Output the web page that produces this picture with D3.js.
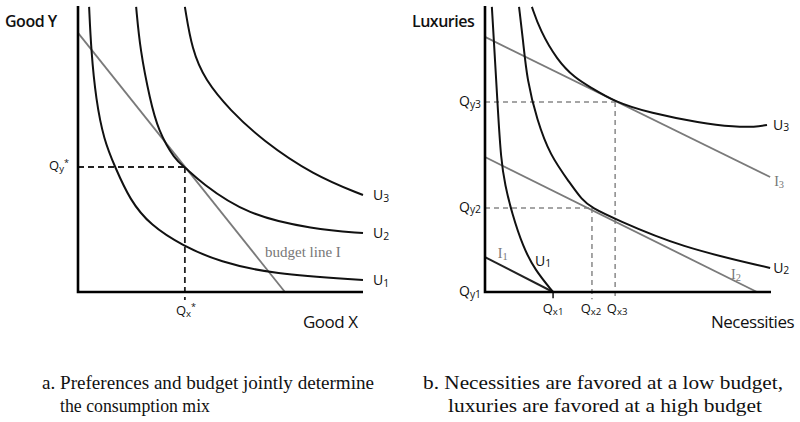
<!DOCTYPE html>
<html><head><meta charset="utf-8">
<script src="https://cdn.jsdelivr.net/npm/d3@7"></script>
<style>
body{margin:0;background:#fff;}
svg{display:block;}
</style></head>
<body><svg id="c" width="800" height="422"></svg>
<script>
// ---- Panel a data (units 0..100 on each axis) ----
const aU1 = [[3.9,99.7],[4.6,84.6],[6.3,67.1],[9.1,53.1],[13.0,43.7],[18.2,32.2],[25.3,23.4],[36.8,16.1],[49.8,10.5],[68.1,6.3],[100,4.2]];
const aU2 = [[20.4,99.7],[21.8,84.6],[25.3,67.1],[28.1,56.6],[34.0,46.2],[37.5,43.7],[42.8,38.5],[59.3,26.9],[82.5,22.0],[100,20.6]];
const aU3 = [[37.5,99.7],[40.0,84.6],[44.6,74.1],[53.3,63.6],[64.6,53.1],[82.5,40.9],[100,33.9]];
const aBudget = [[0,90.6],[72.6,0]];
const aOptimum = [37.5,43.7];
const aCurveLabels = ["U1","U2","U3"];

// ---- Panel b data ----
const bU1 = [[2.4,99.7],[3.5,81.1],[4.5,63.6],[5.6,46.2],[7.0,37.4],[9.4,27.6],[13.3,15.7],[17.5,7.7],[23.8,0]];
const bU2 = [[11.9,99.7],[13.3,88.1],[14.7,74.1],[18.2,60.1],[22.7,47.9],[29.7,38.1],[33.9,32.2],[37.4,29.4],[45.5,25.5],[68.2,15.7],[99.7,8.4]];
const bU3 = [[16.4,99.7],[19.2,91.6],[25.2,81.1],[31.5,74.8],[36.7,71.7],[45.5,66.4],[57.7,62.6],[75.2,59.1],[87.4,57.7],[94.4,57.7],[98.6,58.4]];
const bI1 = [[0,12.2],[23.8,0]];
const bI2 = [[0,47.2],[95.1,0]];
const bI3 = [[0,89.2],[99.7,40.2]];
const bQx = [23.8,37.4,45.5];
const bQy = [0,29.4,66.4];

const captionA = ["a. Preferences and budget jointly determine","the consumption mix"];
const captionB = ["b. Necessities are favored at a low budget,","luxuries are favored at a high budget"];

const svg = d3.select("#c");
const SANS = "'Open Sans', 'Noto Sans', sans-serif";
const SERIF = "'Liberation Serif', 'Times New Roman', serif";

function panel(x0, x1){
  const x = d3.scaleLinear().domain([0,100]).range([x0,x1]);
  const y = d3.scaleLinear().domain([0,100]).range([292,6]);
  return {x,y};
}
const A = panel(78,363);
const B = panel(485,771);

function curve(s, pts, color, width){
  const line = d3.line().x(d=>s.x(d[0])).y(d=>s.y(d[1])).curve(d3.curveBasis);
  svg.append("path").attr("d", line(pts)).attr("fill","none")
    .attr("stroke", color).attr("stroke-width", width).attr("stroke-linecap","butt");
}
function seg(x1,y1,x2,y2,color,width,dash){
  const l = svg.append("line").attr("x1",x1).attr("y1",y1).attr("x2",x2).attr("y2",y2)
    .attr("stroke",color).attr("stroke-width",width);
  if(dash) l.attr("stroke-dasharray",dash);
  return l;
}
function axes(s){
  svg.append("path").attr("d", d3.line()([[s.x(0), s.y(100)],[s.x(0), s.y(0)],[s.x(100), s.y(0)]]))
    .attr("fill","none").attr("stroke","#000").attr("stroke-width",2.6);
}
function sublabel(x, y, main, sub, o){
  o = o || {};
  const size = o.size || 14;
  const t = svg.append("text").attr("x",x).attr("y",y)
    .attr("font-family", o.family || SANS).attr("font-size", size)
    .attr("fill", o.fill || "#111").attr("text-anchor", o.anchor || "start")
    .attr("dominant-baseline","middle");
  t.append("tspan").text(main);
  if(sub) t.append("tspan").attr("font-size",size*0.74).attr("dy", size*0.18).text(sub);
  if(o.sup) t.append("tspan").attr("font-size",size*0.7).attr("dy", -size*0.45).text(o.sup);
  return t;
}

// ---------- Panel a ----------
seg(A.x(0), A.y(aOptimum[1]), A.x(aOptimum[0]), A.y(aOptimum[1]), "#222", 1.8, "6,4");
seg(A.x(aOptimum[0]), A.y(aOptimum[1]), A.x(aOptimum[0]), A.y(-2.8), "#222", 1.8, "6,4");
curve(A, aBudget, "#7a7a7a", 1.8);
[aU1,aU2,aU3].forEach(p=>curve(A,p,"#111",2));
axes(A);
[aU1,aU2,aU3].forEach((p,i)=>{
  const last = p[p.length-1];
  sublabel(A.x(last[0])+10, A.y(last[1])+1, "U", aCurveLabels[i].slice(1), {size:14});
});
sublabel(A.x(0)-29, A.y(aOptimum[1]), "Q", "y", {size:13, sup:"*"});
sublabel(A.x(aOptimum[0])-9, A.y(0)+20, "Q", "x", {size:13, sup:"*"});
svg.append("text").attr("x",265).attr("y",257).attr("font-family",SERIF).attr("font-size",15)
  .attr("fill","#777").text("budget line I");
svg.append("text").attr("x",5).attr("y",27).attr("font-family",SANS).attr("font-size",16)
  .attr("font-weight",600).attr("fill","#111").attr("letter-spacing","-0.5").text("Good Y");
svg.append("text").attr("x",303).attr("y",328).attr("font-family",SANS).attr("font-size",17)
  .attr("font-weight",500).attr("fill","#111").attr("letter-spacing","-0.5").text("Good X");

// ---------- Panel b ----------
bQx.forEach((qx,i)=>{
  const qy = bQy[i];
  if(qy>0){
    seg(B.x(0), B.y(qy), B.x(qx), B.y(qy), "#888", 1.5, "5,4");
    seg(B.x(qx), B.y(qy), B.x(qx), B.y(-2.5), "#888", 1.5, "5,4");
  } else {
    seg(B.x(qx), B.y(0), B.x(qx), B.y(-2.2), "#111", 1.5);
  }
});
curve(B, bI1, "#222", 2);
curve(B, bI2, "#7a7a7a", 1.8);
curve(B, bI3, "#7a7a7a", 1.8);
[bU1,bU2,bU3].forEach(p=>curve(B,p,"#111",2));
axes(B);
sublabel(B.x(bU3[bU3.length-1][0])+6, B.y(bU3[bU3.length-1][1])+1, "U", "3", {size:14});
sublabel(B.x(bU2[bU2.length-1][0])+3, B.y(bU2[bU2.length-1][1])+1, "U", "2", {size:14});
sublabel(B.x(17.5), B.y(10.5), "U", "1", {size:14});
sublabel(B.x(bI3[1][0])+4, B.y(bI3[1][1])+6, "I", "3", {size:14, family:SERIF, fill:"#777"});
sublabel(B.x(86), B.y(5.5), "I", "2", {size:14, family:SERIF, fill:"#777"});
sublabel(B.x(4.5), B.y(12.8), "I", "1", {size:14, family:SERIF, fill:"#777"});
bQy.forEach((qy,i)=>{
  sublabel(B.x(0)-4, B.y(qy), "Q", "y"+(i+1), {size:14, anchor:"end"});
});
bQx.forEach((qx,i)=>{
  sublabel(B.x(qx)+(i===1?-1:i===2?2:0), B.y(0)+18, "Q", "x"+(i+1), {size:13, anchor:"middle"});
});
svg.append("text").attr("x",412).attr("y",27).attr("font-family",SANS).attr("font-size",16)
  .attr("font-weight",600).attr("fill","#111").attr("letter-spacing","-0.5").text("Luxuries");
svg.append("text").attr("x",711).attr("y",328).attr("font-family",SANS).attr("font-size",17)
  .attr("font-weight",500).attr("fill","#111").attr("letter-spacing","-0.5").text("Necessities");

// ---------- Captions ----------
const capX = [[42,60],[423,448]];
const capW = [[332,150],[360,314]];
function caption(lines, k){
  lines.forEach((l,i)=>svg.append("text").attr("x",capX[k][i]).attr("y",[389,412][i])
    .attr("font-family",SERIF).attr("font-size",19).attr("fill","#111")
    .attr("textLength",capW[k][i]).attr("lengthAdjust","spacingAndGlyphs").text(l));
}
caption(captionA, 0);
caption(captionB, 1);
</script></body></html>
